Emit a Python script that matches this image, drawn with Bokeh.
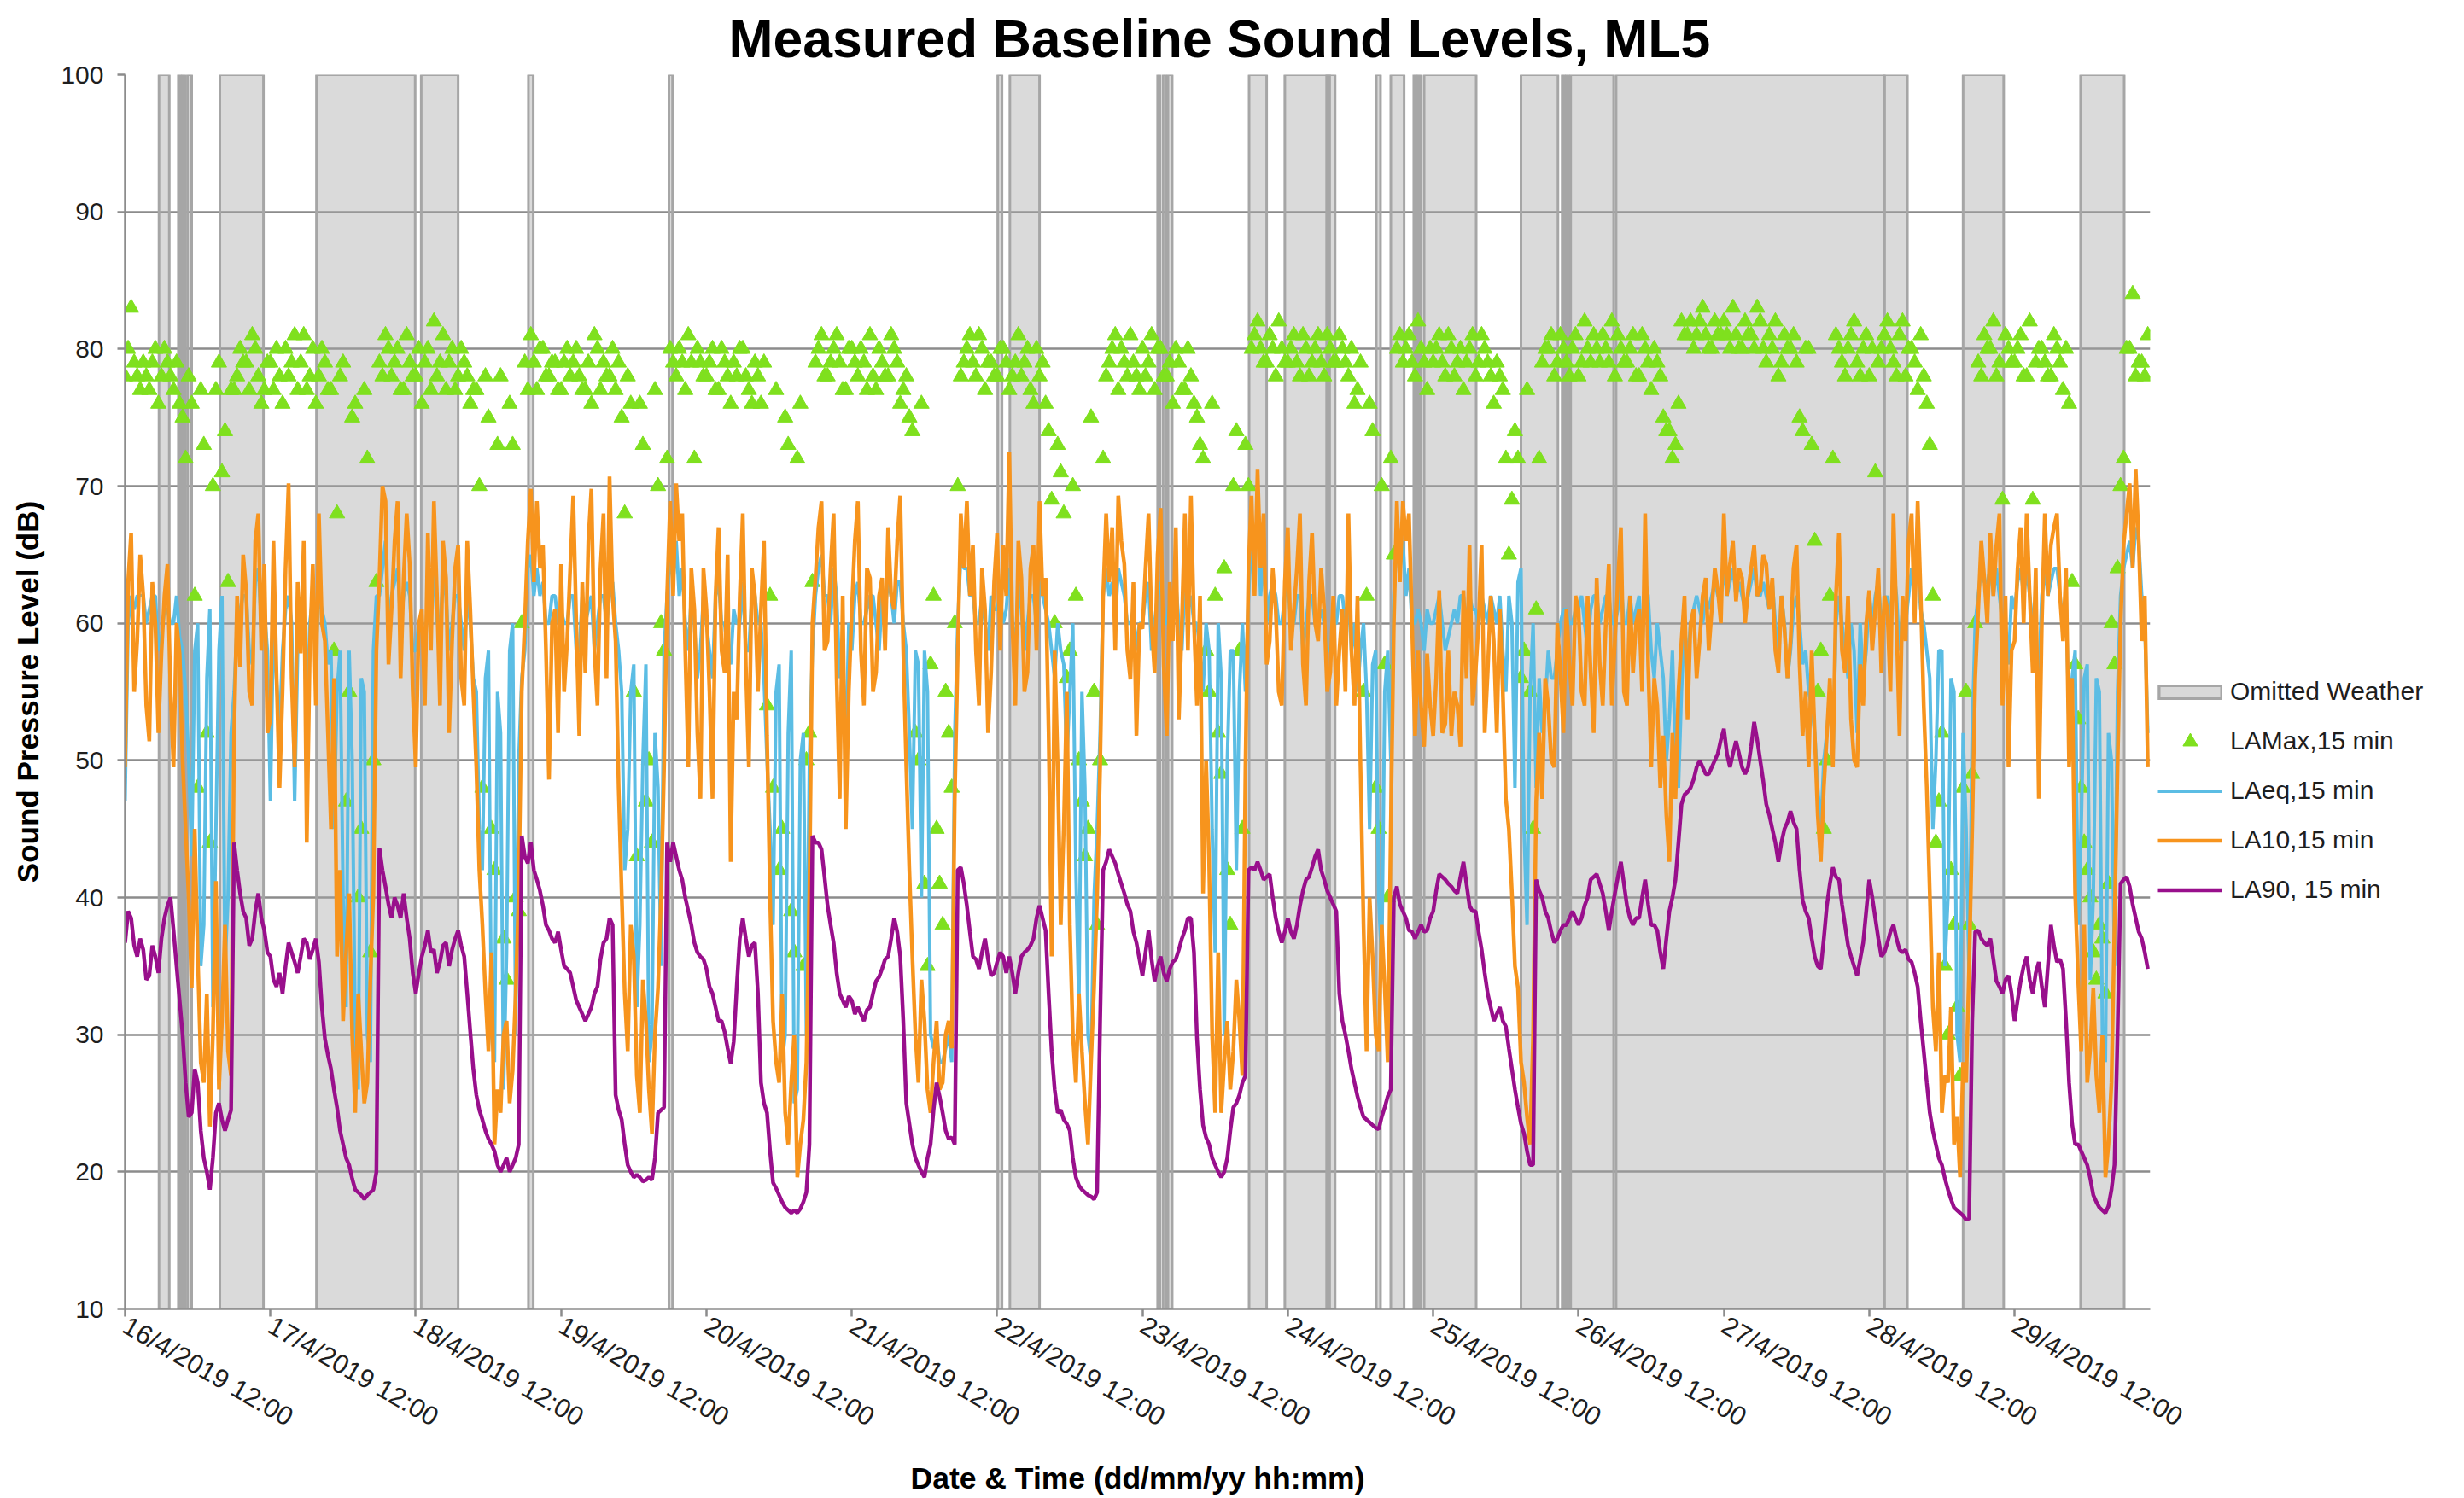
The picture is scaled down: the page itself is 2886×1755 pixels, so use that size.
import math
from bokeh.plotting import figure
from bokeh.models import Range1d, FixedTicker, Legend, LegendItem
from bokeh.embed import file_html
from bokeh.resources import INLINE

# ---------------- data (hours from 16/4/2019 12:00) ----------------
tick_labels = ["16/4/2019 12:00", "17/4/2019 12:00", "18/4/2019 12:00", "19/4/2019 12:00",
               "20/4/2019 12:00", "21/4/2019 12:00", "22/4/2019 12:00", "23/4/2019 12:00",
               "24/4/2019 12:00", "25/4/2019 12:00", "26/4/2019 12:00", "27/4/2019 12:00",
               "28/4/2019 12:00", "29/4/2019 12:00"]
tick_hours = [0, 24, 48, 72, 96, 120, 144, 168, 192, 216, 240, 264, 288, 312]

omitted_start = [5.6, 8.8, 9.5, 10.3, 15.65, 31.6, 48.9, 66.6, 89.8, 144.1, 146.1, 170.5, 171.4,
                 172.2, 185.6, 191.5, 198.4, 206.6, 209.0, 212.8, 213.5, 214.5, 230.5, 237.3,
                 238.0, 238.7, 246.2, 290.5, 303.5, 322.9]
omitted_end = [7.3, 9.2, 9.9, 11.0, 22.85, 47.9, 55.0, 67.4, 90.4, 144.8, 151.0, 170.9, 171.9,
               172.9, 188.5, 199.8, 198.9, 207.3, 211.2, 213.2, 213.9, 223.1, 236.6, 237.7,
               238.4, 245.8, 290.5, 294.3, 310.2, 330.1]

# LA90, on the hour and at half past
la90_on_hour = [
    36.7, 38.5, 35.7, 36.2, 34.3, 35.7, 37, 39.4, 37.6, 32.5, 26.5, 24.3, 26.5, 21, 18.7, 24.3, 23.8, 23.8, 44, 40.3, 38.5, 37, 40.3, 37.6,
    35.7, 33.5, 33, 36.7, 35.3, 35.7, 36.7, 36.2, 35.3, 29.7, 27.5, 24.7, 22, 20.5, 18.7, 18.3, 18.3, 18.7, 43.6, 40.8, 38.5, 39.4, 40.3, 37,
    33, 35.7, 37.6, 36.2, 35.3, 36.7, 36.2, 37.6, 35.7, 30.2, 25.6, 23.8, 22.4, 21.5, 20, 21, 20.5, 22, 43, 44, 41.3, 39.4, 37.6, 36.7,
    36.2, 34.8, 33.5, 32, 31, 32, 33.5, 36.7, 38.5, 25.6, 23.8, 20.5, 19.6, 19.6, 19.4, 19.4, 24.3, 24.7, 42.6, 43, 41.3, 39, 36.7, 35.7,
    34.8, 33, 31, 30.2, 27.9, 33.5, 38.5, 35.7, 36.7, 26.5, 24.3, 19.2, 18.3, 17.4, 17, 17, 17.8, 22, 44, 43.5, 39.4, 36.7, 33, 32,
    32.5, 32, 31, 32, 33.9, 34.8, 35.7, 38.5, 35.7, 25, 22, 20.5, 19.6, 22, 26.5, 24.3, 22.4, 22, 42.2, 39.4, 35.7, 34.8, 37, 34.3,
    35.3, 35.7, 35.7, 33, 35.7, 36.2, 37, 39.4, 37.6, 28.8, 24.3, 23.8, 23, 19.6, 18.7, 18.3, 18, 31, 42.6, 43, 41.7, 40.3, 39, 36.7,
    34.3, 37.6, 33.9, 35.7, 33.9, 35.3, 36.2, 37.6, 38.5, 29.7, 23.4, 22, 20.5, 19.6, 21, 24.7, 25.6, 27, 42.2, 42.6, 41.3, 41.7, 38.5, 36.7,
    38.5, 37, 39.4, 41.3, 42.2, 43.5, 41.3, 40, 39, 31, 28.8, 26.5, 24.7, 23.8, 23.4, 23.1, 24.7, 26, 40.8, 39, 37.6, 37, 38, 37.6,
    39, 41.7, 41.3, 40.8, 40.3, 42.6, 39.4, 39, 36.2, 33, 31, 32, 30.6, 27.5, 24.7, 22.8, 20.5, 41.3, 40, 38.5, 36.7, 37.6, 38, 39,
    38, 39.4, 41.3, 41.7, 40.3, 37.6, 40.3, 42.6, 39.4, 38, 38.5, 41.3, 38, 37.6, 34.8, 39, 41.3, 46.8, 47.7, 48.6, 50, 49, 49.5, 50.5,
    52.3, 49.5, 51.4, 49.5, 49.5, 52.8, 50, 46.8, 45, 42.6, 45, 46.3, 45, 39.8, 38.5, 35.7, 34.8, 39.4, 42.2, 41.3, 38, 35.7, 34.3, 36.7,
    41.3, 38.5, 35.7, 36.7, 38, 36.2, 36.2, 35.3, 33.5, 28.8, 24.3, 22, 20.5, 18.7, 17.4, 17, 16.5, 31, 37.6, 36.7, 37, 33.9, 33, 34.3,
    31, 33.9, 35.7, 33, 35.3, 32, 38, 35.3, 34.8, 26.5, 22, 21.5, 20.5, 18.3, 17.4, 17, 18.7, 30, 41.3, 40.8, 38.5, 37, 34.8,
]
la90_half_past = [
    39, 36.5, 37, 34, 36.5, 34.5, 38.5, 40, 35, 30, 24, 27.5, 23, 20, 21, 25, 23, 24.5, 42, 39, 36.5, 39, 38.5, 36,
    34, 34.5, 35, 36, 34.5, 37, 35.5, 37, 32, 28.5, 26, 23, 21, 19.5, 18.5, 18, 18.5, 20, 42, 39.5, 40, 38.5, 38.5, 34.5,
    34.5, 36.5, 36, 34.5, 36.5, 35, 37, 36.5, 33, 27.5, 24.5, 23, 22, 20.5, 20.5, 20, 21, 44.5, 42.5, 42, 40.5, 38, 37, 37.5,
    35, 34.5, 32.5, 31.5, 31.5, 33, 35.5, 37, 38, 24.5, 22, 20, 19.8, 19.3, 19.6, 21, 24.5, 44, 44, 42, 40, 38, 36, 35.5,
    33.5, 32, 31, 29, 29.5, 37, 37, 36.5, 33, 25, 21.5, 18.8, 17.8, 17.2, 17.2, 17.3, 18.5, 44.5, 44, 41.5, 38, 34.5, 32.5, 32.8,
    31.5, 31.5, 31.8, 33, 34.2, 35.5, 37, 37.5, 31, 23.5, 21, 20, 21, 24.5, 25.5, 23, 22.5, 42, 41, 37.5, 35.5, 36, 35.5, 34.5,
    36, 34.5, 34.5, 34.5, 36, 36.5, 38.5, 38.5, 33, 26, 24.5, 23.5, 21, 19, 18.5, 18.2, 18.5, 42, 43.5, 42.5, 41, 39.5, 37.5, 35.5,
    36, 35.5, 35, 34.5, 34.8, 35.5, 37, 38.5, 36, 26, 22.5, 21, 20, 20, 23, 25, 26.5, 42, 42, 42, 41.5, 40, 37.5, 37.5,
    37.5, 38, 40.5, 41.5, 43, 42, 40.5, 39.5, 33, 30, 27.5, 25.5, 24, 23.6, 23.2, 24, 25.5, 40, 39.5, 38.5, 37.5, 37.5, 37.5, 38.5,
    40.5, 41.5, 41, 40.5, 41.5, 41, 39, 37.5, 34.5, 32, 31.5, 31, 29, 26, 23.5, 21.5, 20.5, 40.5, 39, 37.5, 37, 38, 38.5, 38.5,
    38.5, 40, 41.5, 41, 39, 39, 41.5, 41, 38.5, 38.5, 40, 39.5, 38, 36, 37, 40, 44, 47.5, 48, 49.5, 49.5, 49, 50, 51.5,
    50.5, 50.5, 50.5, 49, 51, 51.5, 48.5, 46, 44, 44, 45.5, 45.5, 42, 39, 37, 35, 37, 41, 41.5, 39.5, 36.5, 35, 35.5, 39,
    40, 37, 36, 37.5, 37, 36, 35.5, 34.5, 31, 26.5, 23, 21, 19.5, 18, 17.2, 16.8, 16.6, 37.5, 37, 36.5, 35.5, 33.5, 34, 33,
    32.5, 35, 34, 34.5, 33.5, 35, 36.5, 35.5, 31, 23.5, 22, 21, 19.5, 17.8, 17.2, 17.5, 20.5, 41, 41.5, 39.5, 37.5, 36,
]

# LA10, on the hour and at half past
la10_on_hour = [
    49.5, 66.6, 58.7, 62, 51.4, 60, 57.8, 64.3, 49.5, 57.8, 45, 33.4, 35.7, 26.5, 23.3, 41.2, 31, 28.8, 51.8, 56.8, 62.4, 54, 68, 64.3,
    53, 56.4, 55, 70.2, 49.5, 57.8, 44, 64.3, 68, 58.7, 45, 35.7, 31, 40.3, 24.3, 28.8, 26.5, 40.3, 63.3, 68.9, 61, 68.9, 63.3, 64.3,
    49.5, 61, 66.6, 68.9, 54, 63.3, 58.7, 65.7, 54, 61, 49.5, 38, 28.8, 22, 24.3, 31, 27.4, 40.3, 60, 69.8, 68.9, 65.7, 48.6, 61,
    64.3, 58.7, 69.3, 51.8, 56.4, 69.8, 54, 68, 70.7, 58.7, 40.3, 28.8, 35.7, 24.3, 31, 22.8, 33.4, 49.5, 68.9, 70.2, 68, 49.5, 61, 47.2,
    61, 47.2, 67, 56.4, 42.6, 53, 68, 49.5, 62, 61, 51.8, 31, 26.5, 24.3, 26.5, 19.6, 23.8, 40.3, 63.3, 68.9, 58.7, 68, 47.2, 45,
    61, 68.9, 54, 63.3, 56.4, 63.3, 67, 61, 69.3, 49.5, 35.7, 26.5, 31, 24.3, 31, 26.5, 31, 47.2, 68, 68.9, 65.7, 54, 61, 56.4,
    66.6, 65.7, 72.5, 54, 63.3, 56.4, 65.7, 68.9, 63.3, 35.7, 49.5, 45, 38, 26.5, 28.8, 22, 33.4, 49.5, 68, 67, 69.3, 64.3, 55.9, 51.8,
    59.6, 68, 56.4, 68.4, 51.8, 58.7, 53, 68, 69.3, 54, 40.3, 42.6, 24.3, 24.3, 31, 28.8, 31, 49.5, 69.3, 71.2, 68, 58.7, 61, 54,
    67, 61, 68, 54, 66.6, 58.7, 61, 56.4, 54, 61, 68, 54, 49.5, 28.8, 35.7, 28.8, 33.4, 45, 68.9, 68.9, 68, 51.8, 54, 57.8,
    51.8, 62.4, 52.7, 51.8, 54, 62.4, 65.7, 56.4, 65.7, 56.4, 58.7, 61, 47.2, 40.3, 33.4, 26.5, 22, 47, 47.2, 54, 49.5, 56.4, 61, 54,
    61, 54, 56.4, 63.3, 54, 64.3, 58.7, 67, 54, 56.4, 61, 68, 49.5, 54, 51.8, 42.6, 47.2, 58.7, 53, 61, 58.7, 63.3, 61, 62.4,
    68, 64.3, 61.6, 63.3, 62.4, 65.7, 62.4, 64.3, 63.3, 56.4, 59.6, 58.7, 65.7, 51.8, 49.5, 51.8, 42.6, 51.8, 49.5, 66.6, 56.4, 53, 49.5, 54,
    62.4, 61, 56.4, 61, 68, 51.8, 58.7, 68, 68.9, 54, 40.3, 28.8, 24.3, 26.5, 22, 19.6, 26.5, 45, 61, 63.3, 66.6, 65.7, 54, 49.5,
    58.7, 67, 68, 56.4, 47.2, 68, 65.7, 68, 58.7, 49.5, 40.3, 28.8, 26.5, 33.4, 24.3, 19.6, 26.5, 49.5, 65.7, 70.2, 71.2, 58.7, 49.5,
]
la10_half_past = [
    63, 55, 65, 54, 63, 52, 62, 55, 60, 50, 40, 45, 28, 33, 30, 26, 38, 27, 62, 65, 55, 66, 58, 52,
    66, 48, 64, 56, 63, 66, 58, 54, 60, 52, 56, 42, 36, 30, 33, 25, 34, 58, 70, 57, 66, 56, 68, 55,
    60, 54, 58, 62, 66, 52, 64, 56, 66, 55, 42, 33, 36, 26, 30, 25, 33, 55, 66, 63, 64, 58, 60, 52,
    55, 64, 60, 63, 66, 58, 64, 56, 62, 48, 33, 38, 27, 34, 26, 30, 40, 62, 62, 66, 58, 64, 52, 64,
    55, 62, 58, 65, 55, 62, 57, 64, 55, 66, 40, 28, 33, 22, 30, 22, 28, 60, 67, 58, 64, 56, 62, 55,
    66, 58, 64, 55, 62, 58, 62, 66, 58, 42, 30, 34, 26, 28, 26, 30, 29, 58, 64, 62, 58, 64, 52, 63,
    58, 62, 60, 66, 55, 64, 58, 62, 52, 58, 38, 55, 30, 33, 25, 28, 40, 62, 63, 58, 66, 58, 63, 60,
    64, 60, 65, 57, 63, 67, 60, 58, 60, 62, 50, 30, 36, 28, 26, 34, 27, 64, 62, 64, 57, 64, 55, 63,
    58, 64, 57, 63, 60, 64, 55, 62, 58, 55, 58, 62, 38, 40, 30, 38, 28, 60, 63, 66, 60, 58, 51, 54,
    56, 52, 58, 55, 51, 56, 54, 60, 52, 62, 52, 55, 45, 35, 28, 24, 30, 52, 56, 50, 60, 52, 57, 62,
    55, 62, 52, 57, 60, 54, 63, 55, 62, 60, 55, 57, 56, 48, 46, 52, 55, 62, 60, 56, 62, 58, 64, 60,
    62, 66, 64, 60, 64, 62, 65, 61, 58, 62, 56, 64, 57, 55, 58, 46, 48, 56, 62, 58, 62, 50, 57, 60,
    58, 64, 62, 55, 60, 62, 66, 60, 62, 48, 32, 36, 27, 32, 24, 28, 35, 56, 66, 60, 62, 68, 62, 58,
    64, 60, 62, 64, 60, 62, 67, 62, 64, 56, 34, 38, 29, 27, 30, 22, 38, 60, 68, 64, 66, 62,
]

# LAeq, on the hour and at half past
laeq_on_hour = [
    47, 62, 62, 62, 61, 62, 59, 61, 60, 59, 55, 43, 60, 38, 61, 45, 62, 40, 55, 61, 62, 57, 64, 61,
    47, 56, 58, 62, 47, 60, 52, 62, 62, 60, 58, 55, 40, 58, 30, 56, 30, 58, 62, 66, 62, 64, 62, 62,
    58, 60, 62, 64, 60, 62, 60, 62, 58, 60, 55, 42, 58, 28, 52, 36, 60, 50, 58, 65, 64, 63, 60, 62,
    61, 60, 62, 58, 60, 62, 60, 62, 62, 60, 55, 45, 57, 38, 57, 30, 48, 58, 65, 66, 64, 58, 60, 58,
    60, 56, 63, 60, 57, 60, 63, 58, 62, 60, 50, 38, 57, 30, 58, 26, 52, 50, 62, 65, 62, 64, 56, 50,
    58, 63, 60, 62, 60, 62, 63, 60, 63, 58, 45, 57, 58, 30, 30, 28, 30, 52, 65, 64, 62, 60, 60, 62,
    61, 60, 64, 58, 61, 60, 62, 63, 61, 58, 60, 57, 55, 42, 55, 30, 40, 52, 64, 63, 64, 62, 60, 58,
    60, 63, 60, 63, 60, 61, 60, 63, 62, 60, 55, 58, 36, 56, 50, 58, 55, 55, 66, 68, 65, 62, 62, 60,
    63, 60, 62, 60, 62, 60, 60, 58, 60, 62, 62, 60, 58, 55, 57, 40, 55, 50, 66, 66, 64, 60, 60, 61,
    60, 62, 58, 60, 60, 62, 62, 61, 62, 60, 61, 62, 55, 60, 63, 45, 55, 48, 52, 58, 56, 60, 61, 60,
    61, 60, 61, 62, 61, 62, 60, 63, 60, 60, 62, 63, 58, 60, 56, 53, 50, 55, 57, 61, 61, 62, 62, 62,
    64, 63, 62, 62, 62, 64, 62, 62, 63, 58, 60, 58, 62, 57, 55, 52, 45, 52, 50, 62, 58, 60, 52, 56,
    62, 62, 60, 62, 64, 58, 60, 64, 64, 60, 56, 50, 58, 40, 55, 28, 45, 52, 62, 63, 64, 64, 60, 57,
    61, 64, 64, 60, 56, 64, 63, 64, 60, 52, 58, 45, 57, 40, 55, 28, 50, 55, 64, 66, 67, 62, 52,
]
laeq_half_past = [
    60, 61, 62, 60, 62, 58, 61, 60, 62, 58, 50, 58, 35, 56, 32, 58, 35, 52, 60, 62, 58, 63, 60, 58,
    60, 52, 61, 60, 58, 62, 60, 58, 61, 57, 45, 58, 32, 50, 26, 55, 28, 62, 64, 60, 63, 60, 63, 58,
    60, 58, 62, 60, 63, 58, 62, 60, 62, 56, 45, 56, 30, 55, 26, 58, 30, 56, 64, 62, 62, 60, 62, 60,
    60, 62, 58, 62, 61, 58, 62, 60, 63, 58, 42, 55, 32, 50, 28, 52, 35, 62, 63, 62, 60, 62, 56, 62,
    58, 62, 60, 58, 61, 60, 58, 62, 60, 56, 45, 55, 28, 52, 25, 50, 30, 58, 64, 62, 60, 62, 58, 60,
    62, 60, 61, 62, 58, 61, 62, 63, 60, 52, 58, 40, 55, 29, 28, 29, 28, 60, 64, 62, 60, 62, 58, 61,
    62, 61, 60, 63, 58, 62, 60, 62, 60, 56, 58, 50, 60, 32, 48, 28, 45, 62, 62, 60, 63, 60, 61, 60,
    62, 58, 62, 60, 62, 63, 58, 61, 60, 58, 60, 45, 60, 30, 58, 42, 60, 62, 65, 62, 60, 63, 60, 62,
    60, 62, 58, 62, 60, 61, 58, 60, 62, 60, 58, 55, 60, 45, 58, 35, 58, 62, 64, 62, 60, 61, 58, 60,
    61, 60, 59, 61, 62, 60, 61, 60, 61, 62, 60, 58, 62, 48, 64, 38, 60, 56, 54, 56, 58, 61, 60, 61,
    62, 58, 62, 60, 62, 60, 61, 60, 62, 61, 58, 62, 56, 58, 50, 58, 48, 60, 60, 62, 60, 61, 63, 62,
    62, 64, 63, 61, 63, 62, 63, 61, 60, 62, 56, 61, 60, 58, 54, 48, 50, 55, 60, 60, 56, 58, 60, 58,
    60, 63, 61, 60, 62, 61, 62, 63, 61, 58, 45, 58, 35, 56, 30, 52, 34, 60, 64, 63, 62, 62, 58, 62,
    63, 62, 62, 58, 62, 62, 64, 62, 62, 56, 38, 56, 34, 56, 30, 52, 35, 62, 65, 64, 66, 60,
]

# LAMax, on the hour and at half past
lamax_on_hour = [
    78, 83, 78, 79, 77, 80, 78, 79, 77, 76, 72, 76, 48, 73, 44, 77, 71, 63, 77, 80, 79, 81, 78, 77,
    79, 80, 76, 78, 81, 79, 77, 80, 78, 79, 77, 68, 79, 55, 76, 45, 72, 50, 79, 81, 78, 80, 77, 79,
    78, 76, 80, 82, 79, 77, 80, 78, 79, 76, 77, 48, 75, 42, 78, 34, 73, 39, 79, 81, 77, 80, 78, 79,
    77, 80, 79, 78, 77, 76, 80, 79, 78, 77, 75, 78, 55, 76, 47, 44, 70, 58, 80, 78, 79, 81, 72, 79,
    78, 80, 77, 79, 76, 78, 80, 77, 79, 76, 54, 48, 42, 75, 39, 72, 35, 52, 79, 81, 78, 80, 79, 77,
    80, 78, 79, 81, 77, 79, 78, 80, 76, 78, 74, 50, 41, 57, 45, 38, 52, 60, 78, 80, 79, 81, 77, 79,
    78, 80, 77, 79, 78, 80, 76, 78, 76, 69, 73, 68, 58, 62, 47, 45, 55, 50, 78, 80, 77, 79, 81, 78,
    80, 79, 77, 80, 78, 76, 79, 77, 78, 75, 72, 55, 62, 49, 42, 70, 58, 73, 80, 82, 79, 81, 78, 80,
    79, 81, 78, 80, 79, 81, 78, 80, 79, 80, 78, 76, 79, 62, 74, 45, 57, 72, 80, 79, 81, 78, 80, 77,
    79, 81, 78, 80, 79, 77, 80, 78, 81, 79, 76, 78, 72, 69, 72, 58, 55, 61, 79, 80, 78, 81, 79, 80,
    78, 82, 79, 80, 81, 79, 78, 80, 79, 81, 78, 80, 77, 79, 75, 74, 73, 82, 81, 80, 82, 81, 80, 81,
    82, 80, 81, 80, 81, 80, 82, 79, 80, 78, 81, 80, 79, 74, 80, 66, 58, 50, 72, 80, 78, 81, 79, 80,
    78, 71, 80, 82, 79, 81, 78, 80, 77, 78, 73, 44, 52, 30, 38, 27, 55, 49, 79, 81, 80, 78, 69, 80,
    79, 81, 78, 69, 80, 79, 78, 80, 77, 76, 57, 48, 42, 36, 38, 33, 60, 64, 72, 80, 78, 79, 81,
]
lamax_half_past = [
    80, 79, 77, 78, 79, 76, 80, 78, 79, 75, 78, 62, 77, 52, 70, 79, 74, 77, 78, 79, 77, 80, 76, 79,
    77, 78, 80, 79, 77, 81, 78, 76, 80, 77, 58, 78, 47, 75, 40, 77, 36, 63, 78, 80, 79, 77, 81, 78,
    80, 79, 77, 78, 81, 79, 77, 80, 78, 77, 70, 78, 45, 73, 37, 76, 40, 60, 77, 79, 80, 78, 79, 77,
    79, 78, 80, 77, 79, 81, 77, 78, 80, 79, 68, 76, 43, 73, 50, 77, 60, 72, 79, 80, 77, 79, 80, 78,
    79, 77, 80, 78, 79, 80, 78, 76, 78, 79, 62, 77, 45, 73, 36, 76, 50, 63, 80, 78, 79, 81, 77, 80,
    79, 80, 77, 78, 80, 78, 81, 79, 77, 75, 52, 76, 35, 62, 41, 55, 48, 70, 79, 81, 78, 80, 79, 78,
    80, 79, 78, 81, 79, 77, 80, 79, 74, 60, 71, 56, 70, 50, 43, 75, 38, 72, 79, 81, 80, 78, 79, 77,
    78, 81, 80, 78, 79, 80, 77, 80, 76, 73, 58, 76, 52, 64, 38, 74, 45, 70, 81, 80, 79, 80, 82, 79,
    80, 79, 81, 78, 80, 79, 81, 79, 81, 79, 80, 77, 55, 76, 48, 70, 40, 65, 81, 80, 79, 82, 79, 80,
    80, 79, 81, 78, 80, 79, 81, 79, 80, 78, 79, 77, 65, 74, 56, 77, 45, 72, 80, 81, 79, 80, 78, 81,
    79, 80, 81, 79, 80, 82, 81, 79, 80, 78, 81, 79, 80, 78, 74, 72, 76, 81, 82, 81, 83, 80, 82, 81,
    81, 83, 80, 82, 81, 83, 80, 81, 82, 79, 80, 81, 75, 80, 73, 55, 45, 62, 81, 79, 80, 82, 78, 81,
    80, 79, 81, 80, 78, 82, 80, 79, 81, 76, 62, 47, 35, 42, 32, 48, 38, 60, 78, 80, 82, 79, 81, 79,
    80, 78, 82, 79, 80, 78, 81, 79, 80, 63, 53, 44, 40, 34, 37, 41, 57, 70, 80, 84, 79, 78,
]


def merge_half_hours(on_hour, half_past):
    """Interleave the on-the-hour and half-past readings; return (hours, values)."""
    hrs, vals = [], []
    for i, v in enumerate(on_hour):
        hrs.append(i)
        vals.append(v)
        if i < len(half_past):
            hrs.append(i + 0.5)
            vals.append(half_past[i])
    return hrs, vals


# ---------------- figure ----------------
FONT = "Liberation Sans"
GRID = "#8C8C8C"

p = figure(frame_width=2372, frame_height=1446,
           x_range=Range1d(0, 334.4), y_range=Range1d(10, 100),
           output_backend="svg", toolbar_location=None,
           min_border_left=146, min_border_right=345,
           min_border_top=87, min_border_bottom=214,
           background_fill_color="white", border_fill_color="white")
p.outline_line_color = None

p.title.text = "Measured Baseline Sound Levels, ML5"
p.title.text_font = FONT
p.title.text_font_style = "bold"
p.title.text_font_size = "62.5px"
p.title.text_color = "black"
p.title.align = "left"
p.title.offset = 707
p.title.standoff = 15

p.yaxis.ticker = FixedTicker(ticks=[10, 20, 30, 40, 50, 60, 70, 80, 90, 100])
p.xaxis.ticker = FixedTicker(ticks=tick_hours)
p.xaxis.major_label_overrides = {h: lbl for h, lbl in zip(tick_hours, tick_labels)}
p.xaxis.major_label_orientation = -math.pi / 6

for ax in (p.xaxis[0], p.yaxis[0]):
    ax.axis_line_color = GRID
    ax.axis_line_width = 2.5
    ax.major_tick_line_color = GRID
    ax.major_tick_line_width = 2.5
    ax.major_tick_out = 9
    ax.major_tick_in = 0
    ax.minor_tick_line_color = None
    ax.major_label_text_font = FONT
    ax.major_label_text_color = "#1E1E1E"
    ax.axis_label_text_font = FONT
    ax.axis_label_text_font_style = "bold"
    ax.axis_label_text_color = "black"

p.yaxis.major_label_text_font_size = "30px"
p.yaxis.major_label_standoff = 16
p.yaxis.axis_label = "Sound Pressure Level (dB)"
p.yaxis.axis_label_text_font_size = "35px"
p.yaxis.axis_label_standoff = 16
p.xaxis.major_label_text_font_size = "31px"
p.xaxis.major_label_standoff = 8
p.xaxis.axis_label = "Date & Time (dd/mm/yy hh:mm)"
p.xaxis.axis_label_text_font_size = "35.5px"
p.xaxis.axis_label_standoff = 16

p.xgrid.grid_line_color = None
p.ygrid.ticker = FixedTicker(ticks=[20, 30, 40, 50, 60, 70, 80, 90, 100])
p.ygrid.grid_line_color = GRID
p.ygrid.grid_line_width = 2.5

# ---------------- series ----------------
hours_90, la90 = merge_half_hours(la90_on_hour, la90_half_past)
hours_10, la10 = merge_half_hours(la10_on_hour, la10_half_past)
hours_eq, laeq = merge_half_hours(laeq_on_hour, laeq_half_past)
hours_mx, lamax = merge_half_hours(lamax_on_hour, lamax_half_past)

bands = p.quad(left=omitted_start, right=omitted_end, bottom=10, top=100,
               fill_color="#A6A6A6", fill_alpha=0.42,
               line_color="#A6A6A6", line_width=3)
r_max = p.scatter(hours_mx, lamax, marker="triangle", size=18,
                  fill_color="#7FE01E", line_color="#7FE01E", line_width=1)
r_eq = p.line(hours_eq, laeq, line_color="#5BBDE4", line_width=4)
r_10 = p.line(hours_10, la10, line_color="#F7941D", line_width=4.5)
r_90 = p.line(hours_90, la90, line_color="#990F8C", line_width=4.5)

# legend swatch for the omitted-weather bands (a bordered bar, drawn only in the legend)
nan = float("nan")
sw_border = p.line([nan], [nan], line_color="#A6A6A6", line_width=18)
sw_fill = p.line([nan], [nan], line_color="#D9D9D9", line_width=12)
sw_sides = p.line([nan], [nan], line_color="#A6A6A6", line_width=18, line_dash="3 70")

legend = Legend(items=[
    LegendItem(label="Omitted Weather", renderers=[sw_border, sw_fill, sw_sides]),
    LegendItem(label="LAMax,15 min", renderers=[r_max]),
    LegendItem(label="LAeq,15 min", renderers=[r_eq]),
    LegendItem(label="LA10,15 min", renderers=[r_10]),
    LegendItem(label="LA90, 15 min", renderers=[r_90]),
], location=(9, 469.5), glyph_width=76, glyph_height=43, label_standoff=9, spacing=15,
    label_text_font=FONT, label_text_font_size="30px", label_text_color="#1E1E1E",
    padding=0, margin=0, border_line_color=None, background_fill_alpha=0)
p.add_layout(legend, "right")

open("out.html", "w").write(file_html(p, INLINE))
